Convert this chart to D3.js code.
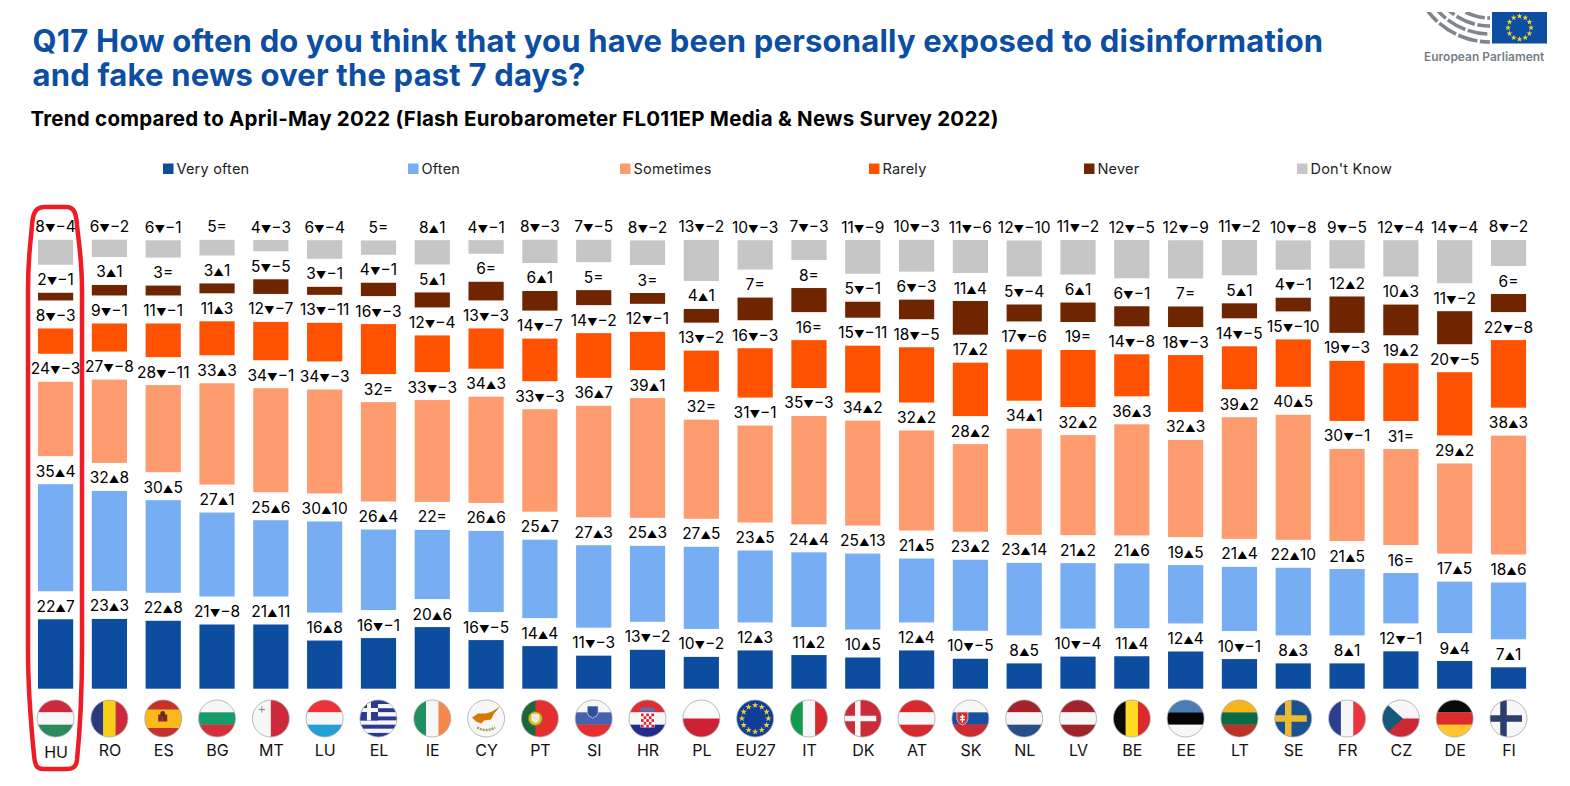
<!DOCTYPE html>
<html><head><meta charset="utf-8">
<script src="https://cdn.jsdelivr.net/npm/d3@7"></script>
<style>
html,body{margin:0;padding:0;background:#fff}
svg{display:block}
text{font-family:Inter,"Noto Sans",sans-serif}
</style></head><body><svg id="c" width="1570" height="786"></svg>
<script>
const categories=["HU","RO","ES","BG","MT","LU","EL","IE","CY","PT","SI","HR","PL","EU27","IT","DK","AT","SK","NL","LV","BE","EE","LT","SE","FR","CZ","DE","FI"];
const seriesNames=["Very often","Often","Sometimes","Rarely","Never","Don't Know"];
const seriesColors=["#0D4DA0","#76ADF3","#FF9C6F","#FF5200","#6E2500","#C6C6C6"];
const veryOften=[22.49,22.6,22.0,20.8,20.8,15.6,16.4,19.96,15.75,13.8,10.7,12.6,10.3,12.4,10.9,10.1,12.4,9.7,8.2,10.4,10.51,12.06,9.6,8.2,8.2,12.1,8.97,6.93];
const often=[34.7,32.4,30.0,27.2,24.7,29.5,26.1,22.4,26.3,25.4,26.7,24.6,26.6,23.3,24.2,24.6,20.7,23.0,23.49,21.2,21.0,18.9,20.8,21.9,21.49,16.3,16.65,18.4];
const sometimes=[24.1,27.0,28.2,32.8,33.7,33.7,32.2,33.0,34.4,33.2,36.1,38.8,32.1,31.4,35.1,34.0,32.4,28.4,34.4,32.4,36.0,31.5,39.4,40.49,29.84,31.1,29.2,38.49];
const rarely=[8.2,9.1,10.9,11.0,12.4,12.51,16.2,11.87,13.05,13.8,14.47,12.4,13.3,15.98,15.51,15.2,17.9,17.3,16.6,18.51,13.6,18.4,13.9,15.35,19.46,18.7,20.49,21.9];
const never=[2.48,3.4,3.2,3.2,4.74,2.59,4.32,4.85,6.04,6.35,4.86,3.49,4.43,7.34,7.8,5.18,6.35,10.9,5.49,6.3,6.49,6.67,4.86,4.43,11.78,9.95,10.7,5.85];
const dontKnow=[8.1,5.6,5.6,5.06,3.66,6.03,4.64,7.87,4.42,7.53,7.24,7.98,13.3,9.51,6.51,10.9,10.3,10.7,11.66,11.2,12.4,12.4,11.46,9.51,9.19,11.78,13.95,8.45];
const deltaVeryOften=[7,3,8,-8,11,8,-1,6,-5,4,-3,-2,-2,3,2,5,4,-5,5,-4,4,4,-1,3,1,-1,4,1];
const deltaOften=[4,8,5,1,6,10,4,0,6,7,3,3,5,5,4,13,5,2,14,2,6,5,4,10,5,0,5,6];
const deltaSometimes=[-3,-8,-11,3,-1,-3,0,-3,3,-3,7,1,0,-1,-3,2,2,2,1,2,3,3,2,5,-1,0,2,3];
const deltaRarely=[-3,-1,-1,3,-7,-11,-3,-4,-3,-7,-2,-1,-2,-3,0,-11,-5,2,-6,0,-8,-3,-5,-10,-3,2,-5,-8];
const deltaNever=[-1,1,0,1,-5,-1,-1,1,0,1,0,0,1,0,0,-1,-3,4,-4,1,-1,0,1,-1,2,3,-2,0];
const deltaDontKnow=[-4,-2,-1,0,-3,-4,0,1,-1,-3,-5,-2,-2,-3,-3,-9,-3,-6,-10,-2,-5,-9,-2,-8,-5,-4,-4,-2];
const titleLines=["Q17 How often do you think that you have been personally exposed to disinformation","and fake news over the past 7 days?"];
const subtitle="Trend compared to April-May 2022 (Flash Eurobarometer FL011EP Media & News Survey 2022)";
const legendX=[163,408,620,869,1084,1297];

const series=[veryOften,often,sometimes,rarely,never,dontKnow];
const deltas=[deltaVeryOften,deltaOften,deltaSometimes,deltaRarely,deltaNever,deltaDontKnow];
const svg=d3.select("#c");
const BASE=688.7,GAP=28,BW=35.2,R=18.5,FY=718.5;
const x=d3.scalePoint().domain(categories).range([55.6,1508.5]);
const h=d3.scaleLinear().domain([0,100]).range([0,308.7]);

// title
svg.selectAll("text.t").data(titleLines).join("text").attr("class","t")
 .attr("x",32.5).attr("y",(d,i)=>52+i*34).attr("fill","#0B4EA2").attr("font-weight",700).attr("font-size",31).attr("letter-spacing",0.185).text(d=>d);
svg.append("text").attr("x",30.5).attr("y",126).attr("font-weight",700).attr("font-size",20.5).attr("letter-spacing",0.25).attr("fill","#000").text(subtitle);

// legend
const lg=svg.append("g").selectAll("g").data(seriesNames).join("g").attr("transform",(d,i)=>`translate(${legendX[i]},163.5)`);
lg.append("rect").attr("width",10.5).attr("height",10.5).attr("fill",(d,i)=>seriesColors[i]);
lg.append("text").attr("x",13.5).attr("y",10.5).attr("font-size",14.5).attr("letter-spacing",0.2).attr("fill","#222").text(d=>d);

// stacks
categories.forEach((c,ci)=>{
  let bottom=BASE;
  const col=svg.append("g");
  series.forEach((s,si)=>{
    const v=s[ci],ht=h(v),top=bottom-ht;
    col.append("rect").attr("x",x(c)-BW/2).attr("y",top).attr("width",BW).attr("height",ht).attr("fill",seriesColors[si]);
    const t=col.append("text").attr("x",x(c)).attr("y",top-7.5).attr("text-anchor","middle").attr("font-size",15.5).attr("fill","#000");
    const dv=deltas[si][ci];
    t.append("tspan").text(Math.round(v));
    if(dv===0){t.append("tspan").text("=");}
    else{
      t.append("tspan").attr("font-size",10.5).text(dv>0?"▲":"▼");
      t.append("tspan").text(dv>0?dv:"−"+Math.abs(dv));
    }
    bottom=top-GAP;
  });
});

// flags
const defs=svg.append("defs");
const H=(...c)=>({h:c}),V=(...c)=>({v:c});
const flags={
 HU:H("#CD2A3E","#F7F7F7","#2A8A5C"),RO:V("#2B3A7E","#F5D016","#CE2939"),ES:{h:["#C8312A","#FBB81B","#C8312A"],e:"es"},
 BG:H("#F7F7F7","#169B6B","#D22F3A"),MT:{v:["#F7F7F7","#CE2939"],e:"mt"},LU:H("#EE3338","#F7F7F7","#23A1D6"),EL:{e:"el"},
 IE:V("#1F9060","#F7F7F7","#F5874A"),CY:{h:["#F7F7F7"],e:"cy"},PT:{e:"pt"},SI:{h:["#F7F7F7","#4462AE","#E72D2F"],e:"si"},
 HR:{h:["#E32B30","#F7F7F7","#1F2B8F"],e:"hr"},PL:H("#FBFBFB","#CC2233"),EU27:{h:["#0F3E96"],e:"eu"},IT:V("#119A4C","#F7F7F7","#D62A2E"),
 DK:{h:["#CC2B3A"],e:"dk"},AT:H("#D8292F","#F7F7F7","#D8292F"),SK:{h:["#F7F7F7","#1551A0","#CF2A31"],e:"sk"},NL:H("#A5232D","#F7F7F7","#2A4F88"),
 LV:H("#A1232C","#F7F7F7","#A1232C"),BE:V("#0A0A0A","#FDDA24","#DD282E"),EE:H("#4A7DB8","#050505","#F7F7F7"),LT:H("#F6B519","#0A6A44","#BC3128"),
 SE:{h:["#1A5192"],e:"se"},FR:V("#2B3F90","#F7F7F7","#EE3340"),CZ:{h:["#F7F7F7","#CC2936"],e:"cz"},DE:H("#0A0A0A","#DD2A2A","#FFC72C"),FI:{h:["#F7F7F7"],e:"fi"}
};
function rect(g,a,b,w,hh,f){g.append("rect").attr("x",a).attr("y",b).attr("width",w).attr("height",hh).attr("fill",f);}
function shield(g,cx,cy,w,hh,f){g.append("path").attr("d",`M${cx-w/2},${cy-hh/2}h${w}v${hh*0.55}q0,${hh*0.3} ${-w/2},${hh*0.45}q${-w/2},${-hh*0.15} ${-w/2},${-hh*0.45}z`).attr("fill",f).attr("stroke","#fff").attr("stroke-width",0.6);}
function starRing(g,cx,cy,r,size,fill){
  d3.range(12).forEach(i=>{const a=i*Math.PI/6;
    g.append("path").attr("d",d3.symbol(d3.symbolStar,size)()).attr("fill",fill)
     .attr("transform",`translate(${cx+r*Math.sin(a)},${cy-r*Math.cos(a)})`);});
}
function cross(g,cx,col,w){rect(g,cx-w/2,-R,w,2*R,col);rect(g,-R,-w/2,2*R,w,col);}
categories.forEach(c=>{
  const f=flags[c];
  defs.append("clipPath").attr("id","fl"+c).append("circle").attr("r",R);
  const outer=svg.append("g").attr("transform",`translate(${x(c)},${FY})`);
  const g=outer.append("g").attr("clip-path",`url(#fl${c})`);
  if(f.h){f.h.forEach((col,i)=>rect(g,-R,-R+i*2*R/f.h.length,2*R,2*R/f.h.length+0.2,col));}
  if(f.v){f.v.forEach((col,i)=>rect(g,-R+i*2*R/f.v.length,-R,2*R/f.v.length+0.2,2*R,col));}
  switch(f.e){
   case "es": rect(g,-R,-R,2*R,9.5,"#C8312A");rect(g,-R,-9,2*R,18.5,"#FBB81B");rect(g,-R,9.5,2*R,9,"#C8312A");
     rect(g,-5,-4,4.5,7,"#8A2A20");rect(g,-0.5,-4,4.5,7,"#7A2A20");g.append("circle").attr("cx",-0.5).attr("cy",-5).attr("r",2.4).attr("fill","#5a2a10");break;
   case "mt": cross(g.append("g").attr("transform","translate(-9,-9) scale(0.17)"),0,"#8c8c8c",6);break;
   case "el": d3.range(9).forEach(i=>rect(g,-R,-R+i*37/9,37,37/9+0.1,i%2?"#F7F7F7":"#2A3B8F"));
     rect(g,-R,-R,18,20.5,"#2A3B8F");rect(g,-R,-10.5,18,4,"#F7F7F7");rect(g,-11.5,-R,4,20.5,"#F7F7F7");break;
   case "cy": g.append("path").attr("d","M-14,-1 L-8,-5 L0,-5 L6,-7 L14,-12 L8,-5 L5,1 L-2,2 L-5,5 L-10,3Z").attr("fill","#D57800");
     g.append("path").attr("d","M-9,9 Q0,14 9,9").attr("fill","none").attr("stroke","#9b9a52").attr("stroke-width",2.4).attr("stroke-dasharray","2 1");break;
   case "pt": rect(g,-R,-R,2*R,2*R,"#E52E2E");rect(g,-R,-R,14,2*R,"#17683A");
     g.append("circle").attr("cx",-4.5).attr("r",7).attr("fill","#E0C020").attr("stroke","#7a7a20");shield(g,-4.5,0,7,8,"#E8E8E8");break;
   case "si": shield(g,-1,-6.5,11,12,"#2F4E9C");break;
   case "hr": { const s=g.append("g").attr("transform","translate(-6.5,-5)");
     rect(s,-0.5,0,14,14,"#fff");
     d3.range(5).forEach(i=>d3.range(5).forEach(j=>{if((i+j)%2==0)rect(s,i*13/5,j*14/5,13/5,14/5,"#D9232E");}));
     rect(g,-7,-11,14,4,"#4A78B8");break; }
   case "eu": starRing(g,0,0,13.2,13,"#F3CE3A");break;
   case "dk": cross(g.append("g").attr("transform","translate(-5,0)"),0,"#F7F7F7",5.5);break;
   case "sk": { shield(g,-8,-0,11,13,"#D42B30");rect(g,-8.7,-4,1.5,8,"#fff");rect(g,-10.5,-2.2,5,1.3,"#fff");rect(g,-10.5,0.5,5,1.3,"#fff");break; }
   case "se": cross(g.append("g").attr("transform","translate(-5,0)"),0,"#ECBB32",6.5);break;
   case "cz": g.append("path").attr("d",`M${-R},${-R}L2,0L${-R},${R}Z`).attr("fill","#16577A");break;
   case "fi": cross(g.append("g").attr("transform","translate(-5,0)"),0,"#2A3F6E",6.5);break;
  }
  outer.append("circle").attr("r",R).attr("fill","none").attr("stroke","#A8A8A8").attr("stroke-width",0.8);
});

// category axis
const axis=svg.append("g").attr("transform","translate(0,744)").call(d3.axisBottom(x).tickSize(0).tickPadding(0));
axis.select(".domain").remove();
axis.selectAll("text").attr("font-size",16).attr("fill","#111").style("font-family","Inter").attr("dy",0).attr("y",11.5);
axis.selectAll("text").filter(d=>d==="HU").attr("y",13.5);

// highlight outline
svg.append("path").attr("d","M45,207L66,207C74,207 76,212 77,225C79,245 82,260 82,290L82,650C82,700 79,740 77,760C76,768 72,769 66,769L44,769C36,769 35,765 34,755C32,735 28,690 28,650L28,290C28,255 31,240 32,225C33,212 36,207 45,207Z")
 .attr("fill","none").attr("stroke","#EE1C25").attr("stroke-width",4.5);

// logo
const logo=svg.append("g");
rect(logo,1492,12,55,31.5,"#0B4EA2");
starRing(logo,1519.5,27.7,11.5,11,"#F5D327");
defs.append("clipPath").attr("id","hemi").append("rect").attr("x",1424).attr("y",12).attr("width",66).attr("height",32);
const hg=logo.append("g").attr("clip-path","url(#hemi)");
[78,70,62,54,46].forEach((r,i)=>{
  hg.append("circle").attr("cx",1490).attr("cy",-36).attr("r",r).attr("fill","none").attr("stroke","#7D878D").attr("stroke-width",3.6).attr("stroke-dasharray","20 2.5");
});
logo.append("text").attr("x",1424).attr("y",61).attr("font-size",11.9).attr("font-weight",600).attr("letter-spacing",0.05).attr("fill","#737E85").text("European Parliament");
</script></body></html>
